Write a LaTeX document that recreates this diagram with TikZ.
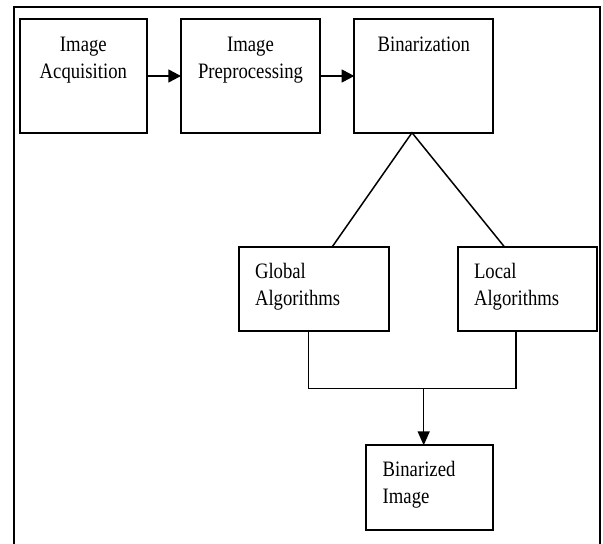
\documentclass[tikz,border=0pt]{standalone}
\usepackage{fontspec}
\setmainfont{Liberation Serif}[FakeStretch=0.85]
\usetikzlibrary{arrows.meta}
\begin{document}
\begin{tikzpicture}[x=1pt,y=-1pt,
  box/.style={draw, line width=1.8pt, inner sep=0pt, outer sep=0pt},
  lbl/.style={inner sep=0pt, outer sep=0pt, font=\fontsize{22}{27}\selectfont},
  conn/.style={line width=1.5pt},
  arr/.style={conn, -{Triangle[length=12.7pt,width=13pt]}},
  arrdown/.style={conn, -{Triangle[length=14pt,width=12pt]}}]
\useasboundingbox (0,0) rectangle (603,544);
% outer frame (open at the bottom)
\draw[line width=1.9pt] (13.8,544) -- (13.8,6.7) -- (600.4,6.7) -- (600.4,544);
% boxes
\node[box, minimum width=126.7pt, minimum height=113.4pt] (b1) at (83.35,76) {};
\node[box, minimum width=139pt, minimum height=113.4pt] (b2) at (250.5,76) {};
\node[box, minimum width=139pt, minimum height=113.4pt] (b3) at (423.8,76) {};
\node[box, minimum width=150.3pt, minimum height=84.6pt] (glob) at (314.15,289) {};
\node[box, minimum width=139pt, minimum height=84.6pt] (loc) at (527.8,289) {};
\node[box, minimum width=127pt, minimum height=85pt] (bin) at (429.5,487.8) {};
% texts (base anchor = baseline of the last line)
\node[lbl, align=center, anchor=base] (t1) at (83.35,78) {Image\\Acquisition};
\node[lbl, align=center, anchor=base] (t2) at (250.5,78) {Image\\Preprocessing};
\node[lbl, anchor=base] (t3) at (423.8,51) {Binarization};
\node[lbl, align=left, anchor=base west] (t4) at (255,305) {Global\\Algorithms};
\node[lbl, align=left, anchor=base west] (t5) at (474,305) {Local\\Algorithms};
\node[lbl, align=left, anchor=base west] (t6) at (382.7,503.7) {Binarized\\Image};
% connectors
\draw[arr] (b1.east) -- (b2.west);
\draw[arr] (b2.east) -- (b3.west);
\draw[conn] ([xshift=18.15pt]glob.north) -- ([xshift=-11.8pt]b3.south) -- ([xshift=-23.5pt]loc.north);
\coordinate (merge) at (423.7,388.3);
\draw[conn] ([xshift=-5.85pt]glob.south) |- (merge) -| ([xshift=-11.8pt]loc.south);
\draw[arrdown] (merge) -- ([xshift=-5.8pt]bin.north);
\end{tikzpicture}
\end{document}
